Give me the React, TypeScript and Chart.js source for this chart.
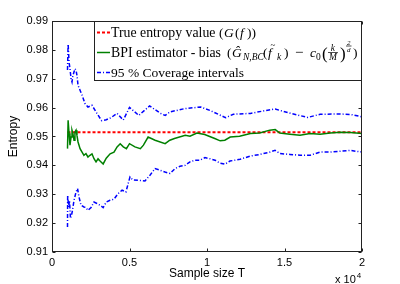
import { useEffect, useRef } from 'react';
import { Chart, registerables } from 'chart.js';
Chart.register(...registerables);

const SERIF = '"Liberation Serif", "Times New Roman", serif';
const SANS = '"Liberation Sans", Arial, sans-serif';

// x in units of 10^4 samples
const xTicks = [0, 0.5, 1, 1.5, 2];
const yMin = 0.91;
const yMax = 0.99;

const trueX = [0.1, 2.0];
const trueY = [0.9515, 0.9515];

const estX = [0.100,0.104,0.110,0.116,0.123,0.129,0.135,0.142,0.148,0.155,0.161,0.168,0.181,0.194,0.206,0.219,0.232,0.245,0.258,0.271,0.284,0.297,0.310,0.330,0.350,0.375,0.400,0.420,0.440,0.460,0.480,0.500,0.535,0.570,0.590,0.620,0.665,0.730,0.760,0.790,0.860,0.890,0.935,0.985,1.050,1.085,1.115,1.150,1.210,1.280,1.340,1.405,1.440,1.470,1.535,1.600,1.665,1.730,1.795,1.860,1.925,2.000];
const estY = [0.9458,0.9556,0.9511,0.9470,0.9498,0.9522,0.9510,0.9487,0.9516,0.9522,0.9504,0.9481,0.9458,0.9446,0.9435,0.9441,0.9429,0.9435,0.9440,0.9423,0.9412,0.9423,0.9415,0.9405,0.9425,0.9440,0.9446,0.9464,0.9475,0.9464,0.9458,0.9475,0.9464,0.9458,0.9470,0.9498,0.9487,0.9475,0.9487,0.9493,0.9504,0.9501,0.9512,0.9507,0.9493,0.9485,0.9487,0.9498,0.9501,0.9510,0.9512,0.9522,0.9524,0.9512,0.9508,0.9504,0.9510,0.9508,0.9512,0.9515,0.9514,0.9510];

const upperX = [0.100,0.104,0.110,0.116,0.123,0.129,0.135,0.142,0.148,0.155,0.161,0.168,0.181,0.194,0.213,0.232,0.258,0.290,0.320,0.350,0.380,0.420,0.460,0.500,0.560,0.630,0.700,0.730,0.760,0.860,0.960,1.020,1.120,1.170,1.280,1.400,1.440,1.540,1.650,1.730,1.860,1.930,2.000];
const upperY = [0.9730,0.9820,0.9758,0.9735,0.9700,0.9689,0.9712,0.9723,0.9735,0.9730,0.9712,0.9677,0.9660,0.9643,0.9614,0.9602,0.9608,0.9580,0.9555,0.9558,0.9565,0.9580,0.9557,0.9601,0.9573,0.9606,0.9580,0.9573,0.9585,0.9597,0.9602,0.9590,0.9565,0.9577,0.9580,0.9592,0.9595,0.9580,0.9566,0.9577,0.9578,0.9576,0.9568];

const lowX = [0.100,0.101,0.107,0.113,0.119,0.126,0.132,0.142,0.155,0.165,0.174,0.187,0.206,0.219,0.232,0.252,0.271,0.290,0.310,0.330,0.350,0.374,0.400,0.426,0.452,0.477,0.503,0.520,0.568,0.600,0.632,0.665,0.697,0.729,0.761,0.794,0.826,0.858,0.890,0.923,0.955,0.987,1.019,1.052,1.084,1.116,1.148,1.213,1.277,1.342,1.406,1.439,1.471,1.535,1.600,1.665,1.729,1.794,1.858,1.923,2.000];
const lowY = [0.9187,0.9296,0.9256,0.9279,0.9216,0.9227,0.9244,0.9279,0.9308,0.9320,0.9291,0.9262,0.9256,0.9254,0.9244,0.9254,0.9273,0.9268,0.9262,0.9254,0.9273,0.9279,0.9283,0.9302,0.9314,0.9308,0.9360,0.9350,0.9348,0.9346,0.9366,0.9389,0.9383,0.9377,0.9372,0.9389,0.9397,0.9400,0.9412,0.9418,0.9418,0.9427,0.9423,0.9418,0.9408,0.9404,0.9415,0.9421,0.9432,0.9438,0.9446,0.9452,0.9441,0.9438,0.9435,0.9435,0.9446,0.9446,0.9449,0.9452,0.9446];

const zip = (xs: number[], ys: number[]) => xs.map((x, i) => ({ x, y: ys[i] }));

const RED = '#ff0000';
const GREEN = '#008000';
const BLUE = '#0000ff';
const DASHDOT = [4, 2, 1, 2];
const DOTTED = [3, 2];

type Piece = { t?: string; x?: number; i?: boolean; s?: number; dy?: number; tilde?: boolean; frac?: [string, string]; lineDy?: number; g1?: number; g2?: number };

const row1: Piece[] = [
  { t: 'True entropy value', s: 13.8 },
  { t: '(', x: 219 },
  { t: 'G', i: true, x: 224 },
  { t: '(', x: 235 },
  { t: 'f', i: true, x: 240 },
  { t: '))', x: 247 },
];
const row2: Piece[] = [
  { t: 'BPI estimator - bias', s: 13.8 },
  { t: '(', x: 227 },
  { t: 'Ĝ', i: true, x: 232 },
  { t: 'N,BC', i: true, s: 9.5, dy: 3, x: 243 },
  { t: '(', x: 263 },
  { t: 'f', i: true, tilde: true, x: 268 },
  { t: 'k', i: true, s: 9.5, dy: 3, x: 277 },
  { t: ')', x: 284 },
  { t: '−', s: 15, x: 295 },
  { t: 'c', i: true, x: 310 },
  { t: '0', s: 9.5, dy: 3, x: 316 },
  { t: '(', s: 17, dy: 2, x: 322 },
  { frac: ['k', 'M'], s: 9.5, lineDy: -4.5, g1: 1.5, g2: 7.5, x: 328 },
  { t: ')', s: 17, dy: 2, x: 340 },
  { frac: ['2', 'd'], s: 7, lineDy: -11, g1: 1.2, g2: 5.5, x: 346 },
  { t: ')', x: 353 },
];
const row3: Piece[] = [{ t: '95 % Coverage intervals', s: 13.5 }];

function drawPieces(ctx: CanvasRenderingContext2D, pieces: Piece[], x0: number, base: number) {
  let x = x0;
  ctx.fillStyle = '#000';
  ctx.textAlign = 'left';
  ctx.textBaseline = 'alphabetic';
  for (const p of pieces) {
    if (p.x !== undefined) x = p.x;
    const size = p.s ?? 13.5;
    if (p.frac) {
      ctx.font = `italic ${size}px ${SERIF}`;
      const w1 = ctx.measureText(p.frac[0]).width;
      const w2 = ctx.measureText(p.frac[1]).width;
      const w = Math.max(w1, w2) + 2;
      const ly = base + (p.lineDy ?? 0);
      ctx.fillText(p.frac[0], x + (w - w1) / 2, ly - (p.g1 ?? 2));
      ctx.fillText(p.frac[1], x + (w - w2) / 2, ly + (p.g2 ?? 8));
      ctx.fillRect(x, ly - 0.35, w, 0.7);
      x += w + 1;
    } else {
      ctx.font = `${p.i ? 'italic ' : ''}${size}px ${SERIF}`;
      const t = p.t ?? '';
      ctx.fillText(t, x, base + (p.dy ?? 0));
      const w = ctx.measureText(t).width;
      if (p.tilde) {
        ctx.font = `9px ${SERIF}`;
        ctx.fillText('~', x + 2.5, base - 9.5);
      }
      x += w;
    }
  }
}

const framePlugin = {
  id: 'frame',
  afterDraw(chart: any) {
    const { ctx, chartArea: a, scales } = chart;
    const L = Math.round(a.left) + 0.5;
    const R = Math.round(a.right) - 0.5;
    const T = Math.round(a.top) + 0.5;
    const B = Math.round(a.bottom) - 0.5;
    ctx.save();
    ctx.setLineDash([]);
    ctx.strokeStyle = '#222';
    ctx.lineWidth = 1;
    ctx.strokeRect(L, T, R - L, B - T);
    // inward ticks
    ctx.beginPath();
    for (const v of xTicks) {
      const px = Math.round(scales.x.getPixelForValue(v)) + 0.5;
      ctx.moveTo(px, B); ctx.lineTo(px, B - 3);
      ctx.moveTo(px, T); ctx.lineTo(px, T + 3);
    }
    for (let k = 0; k <= 8; k++) {
      const v = yMin + k * 0.01;
      const py = Math.round(scales.y.getPixelForValue(v)) + 0.5;
      ctx.moveTo(L, py); ctx.lineTo(L + 3, py);
      ctx.moveTo(R, py); ctx.lineTo(R - 3, py);
    }
    ctx.stroke();

    // legend box
    const lx = 94.5, ly = T, lw = R - 94.5, lh = 80.5 - T;
    ctx.fillStyle = '#fff';
    ctx.fillRect(lx, ly, lw, lh);
    ctx.strokeStyle = '#222';
    ctx.strokeRect(lx, ly, lw, lh);

    const rows = [
      { y: 32.5, color: RED, dash: DOTTED, w: 2, pieces: row1 },
      { y: 52.5, color: GREEN, dash: [], w: 1.5, pieces: row2 },
      { y: 72.5, color: BLUE, dash: DASHDOT, w: 1.5, pieces: row3 },
    ];
    for (const r of rows) {
      ctx.beginPath();
      ctx.strokeStyle = r.color;
      ctx.lineWidth = r.w;
      ctx.setLineDash(r.dash);
      ctx.moveTo(97, r.y);
      ctx.lineTo(110, r.y);
      ctx.stroke();
      ctx.setLineDash([]);
      drawPieces(ctx, r.pieces, 111, r.y + 4.5);
    }

    // axis titles
    ctx.fillStyle = '#000';
    ctx.font = `12px ${SANS}`;
    ctx.textAlign = 'center';
    ctx.textBaseline = 'alphabetic';
    ctx.fillText('Sample size T', (a.left + a.right) / 2, 277);
    ctx.save();
    ctx.translate(17, (a.top + a.bottom) / 2);
    ctx.rotate(-Math.PI / 2);
    ctx.fillText('Entropy', 0, 0);
    ctx.restore();
    ctx.textAlign = 'left';
    ctx.font = `11px ${SANS}`;
    ctx.fillText('x 10', 335, 283);
    const w = ctx.measureText('x 10').width;
    ctx.font = `8px ${SANS}`;
    ctx.fillText('4', 335 + w + 1, 278);
    ctx.restore();
  },
};

export default function App() {
  const ref = useRef<HTMLCanvasElement>(null);
  useEffect(() => {
    document.body.style.margin = '0';
    const canvas = ref.current!;
    const chart = new Chart(canvas, {
      type: 'line',
      data: {
        datasets: [
          { label: 'True entropy value', data: zip(trueX, trueY), borderColor: RED, borderWidth: 2, borderDash: DOTTED, pointRadius: 0, order: 3 },
          { label: 'BPI estimator - bias', data: zip(estX, estY), borderColor: GREEN, borderWidth: 1.5, pointRadius: 0, order: 2 },
          { label: '95 % Coverage intervals', data: zip(upperX, upperY), borderColor: BLUE, borderWidth: 1.5, borderDash: DASHDOT, pointRadius: 0, order: 1 },
          { label: '95 % Coverage intervals (lower)', data: zip(lowX, lowY), borderColor: BLUE, borderWidth: 1.5, borderDash: DASHDOT, pointRadius: 0, order: 1 },
        ],
      },
      options: {
        responsive: false,
        animation: false,
        devicePixelRatio: 1,
        layout: { padding: { top: 21, right: 38, left: 0, bottom: 0 } },
        plugins: { legend: { display: false }, tooltip: { enabled: false }, title: { display: false } },
        elements: { line: { tension: 0 } },
        scales: {
          x: {
            type: 'linear',
            min: 0,
            max: 2,
            grid: { display: false, drawTicks: false },
            border: { display: false },
            afterFit: (s: any) => { s.height = 32; },
            afterBuildTicks: (s: any) => { s.ticks = xTicks.map((v) => ({ value: v })); },
            ticks: {
              color: '#000',
              padding: 4,
              maxRotation: 0,
              autoSkip: false,
              font: { family: SANS, size: 11 },
              callback: (v: any) => String(Number(v)),
            },
          },
          y: {
            type: 'linear',
            min: yMin,
            max: yMax,
            grid: { display: false, drawTicks: false },
            border: { display: false },
            afterFit: (s: any) => { s.width = 52; },
            ticks: {
              color: '#000',
              padding: 4,
              stepSize: 0.01,
              font: { family: SANS, size: 11 },
              callback: (v: any) => Number(v).toFixed(2),
            },
          },
        },
      },
      plugins: [framePlugin],
    });
    return () => chart.destroy();
  }, []);
  return <canvas ref={ref} width={400} height={284} style={{ display: 'block' }} />;
}
